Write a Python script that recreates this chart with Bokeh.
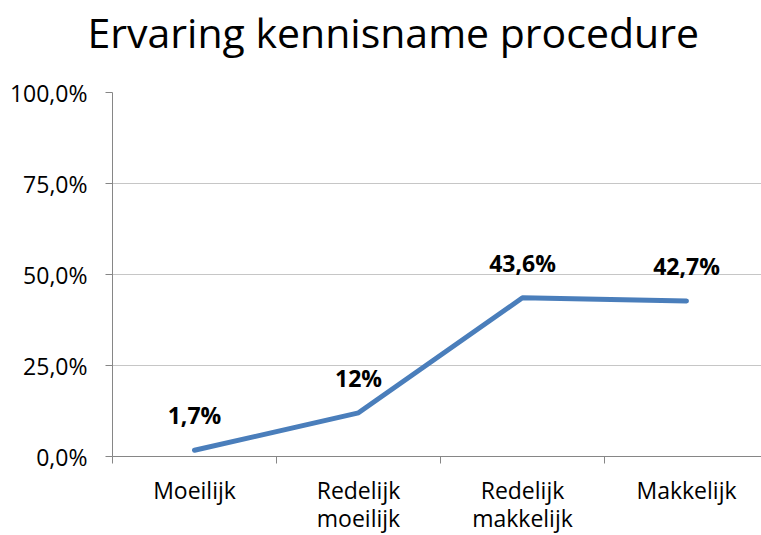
from bokeh.plotting import figure
from bokeh.models import FixedTicker, Range1d, ColumnDataSource, Title
from bokeh.embed import file_html
from bokeh.resources import INLINE
from bokeh.core.properties import value

title_text = "Ervaring kennisname procedure"
categories = ["Moeilijk", "Redelijk\nmoeilijk", "Redelijk\nmakkelijk", "Makkelijk"]
values = [1.7, 12, 43.6, 42.7]
value_labels = ["1,7%", "12%", "43,6%", "42,7%"]
y_ticks = [0, 25, 50, 75, 100]
y_tick_labels = ["0,0%", "25,0%", "50,0%", "75,0%", "100,0%"]

FONT = "Open Sans"
LINE_COLOR = "#4a7ebb"

xs = [i + 0.5 for i in range(len(categories))]
src = ColumnDataSource(dict(x=xs, y=values, lab=value_labels))

p = figure(frame_width=649, frame_height=364, output_backend="svg", toolbar_location=None,
           x_range=Range1d(0, 649 / 164), y_range=Range1d(0, 100),
           min_border_left=112, min_border_right=0, min_border_top=92, min_border_bottom=40)
p.outline_line_color = None
p.background_fill_color = "white"

# spacer between title and plot area
spacer = Title(text=" ", text_font_size="1px", standoff=30)
p.add_layout(spacer, "above")

p.title.text = title_text
p.title.align = "left"
p.title.offset = -25
p.title.standoff = 0
p.title.vertical_align = "bottom"
p.title.text_line_height = 0.9
p.title.text_font = FONT
p.title.text_font_style = "normal"
p.title.text_font_size = "41px"
p.title.text_color = "black"

# y axis
p.yaxis.ticker = FixedTicker(ticks=y_ticks, minor_ticks=[])
p.yaxis.major_label_overrides = {t: l for t, l in zip(y_ticks, y_tick_labels)}
p.yaxis.major_label_text_font = FONT
p.yaxis.major_label_text_font_size = "23px"
p.yaxis.major_label_text_color = "black"
p.yaxis.major_label_standoff = 18
p.yaxis.major_tick_out = 7
p.yaxis.major_tick_in = 0
p.yaxis.minor_tick_out = 0
p.yaxis.minor_tick_in = 0
p.yaxis.axis_line_color = "#868686"
p.yaxis.major_tick_line_color = "#868686"

# x axis
p.xaxis.ticker = FixedTicker(ticks=xs, minor_ticks=[0, 1, 2, 3])
p.xaxis.major_label_overrides = {x: c for x, c in zip(xs, categories)}
p.xaxis.major_label_text_font = FONT
p.xaxis.major_label_text_font_size = "23px"
p.xaxis.major_label_text_line_height = 0.9
p.xaxis.major_label_text_color = "black"
p.xaxis.major_label_standoff = 10
p.xaxis.major_tick_out = 0
p.xaxis.major_tick_in = 0
p.xaxis.minor_tick_out = 7
p.xaxis.minor_tick_in = 0
p.xaxis.axis_line_color = "#868686"
p.xaxis.minor_tick_line_color = "#868686"

p.xgrid.grid_line_color = None
p.ygrid.ticker = FixedTicker(ticks=y_ticks)
p.ygrid.grid_line_color = "#c6c6c6"
p.ygrid.grid_line_width = 1

p.line("x", "y", source=src, line_color=LINE_COLOR, line_width=5, line_cap="round", line_join="round")
p.text("x", "y", text="lab", source=src, text_align="center", text_baseline="middle", y_offset=-35,
       text_font=value(FONT), text_font_style="bold", text_font_size="23px", text_color="black")

open("out.html", "w").write(file_html(p, INLINE))
